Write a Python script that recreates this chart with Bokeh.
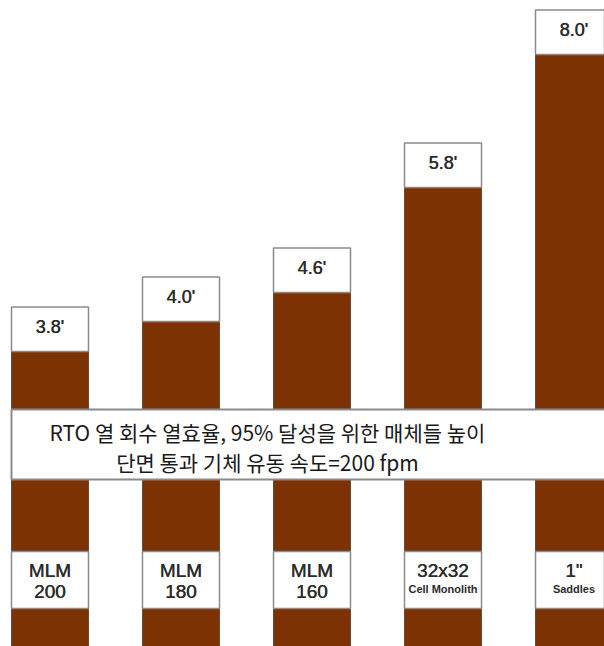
from bokeh.plotting import figure
from bokeh.models import ColumnDataSource, Range1d
from bokeh.core.properties import value
from bokeh.embed import file_html
from bokeh.resources import INLINE

# ---- data ----
categories = ["MLM 200", "MLM 180", "MLM 160", "32x32 Cell Monolith", '1" Saddles']
heights_ft = [3.8, 4.0, 4.6, 5.8, 8.0]
height_labels = ["3.8'", "4.0'", "4.6'", "5.8'", "8.0'"]
# drawn bar height (brown part) in picture units
bar_height = [295, 325, 354, 459, 592]
label_main = ["MLM", "MLM", "MLM", "32x32", '1"']
label_sub = ["200", "180", "160", "Cell Monolith", "Saddles"]
title_lines = ["RTO 열 회수 열효율, 95% 달성을 위한 매체들 높이",
               "단면 통과 기체 유동 속도=200 fpm"]

W, H = 604, 646
BROWN = "#7D3204"
EDGE = "#8a8a8a"
TXT = "#1a1a1a"
LBL = "#2b2b2b"

x0, step, bw = 49.5, 131.0, 77.0
xs = [x0 + step * i for i in range(len(categories))]
box_h = 44.5

src = ColumnDataSource(dict(
    x=xs,
    top=bar_height,
    box_top=[b + box_h for b in bar_height],
    box_mid=[b + box_h / 2 + 2 for b in bar_height],
    hlab=height_labels,
    main=label_main,
    sub=label_sub,
    big_sub=[s if s.isdigit() else "" for s in label_sub],
    small_sub=["" if s.isdigit() else s for s in label_sub],
))

p = figure(width=W, height=H, output_backend="svg", toolbar_location=None,
           x_range=Range1d(0, W), y_range=Range1d(0, H), min_border=0,
           background_fill_color="white", border_fill_color="white")
p.axis.visible = False
p.grid.visible = False
p.outline_line_color = None


def medium_text(**kw):
    # draw twice with a sub-pixel shift to imitate a medium font weight
    for dx in (-0.2, 0.2):
        p.text(x_offset=dx, **kw)


# brown bars
p.vbar(x="x", width=bw, bottom=-5, top="top", source=src,
       fill_color=BROWN, line_color="#6b4a3a", line_width=1)
# white value boxes on top
p.vbar(x="x", width=bw, bottom="top", top="box_top", source=src,
       fill_color="white", line_color=EDGE, line_width=1.5)
medium_text(x="x", y="box_mid", text="hlab", source=src,
            text_font=value("Liberation Sans"), text_font_size="18px",
            text_color=LBL, text_align="center", text_baseline="middle")

# middle band
p.quad(left=[11], right=[W + 20], bottom=[H - 479], top=[H - 409],
       fill_color="white", line_color=EDGE, line_width=2)
p.text(x=[267, 267], y=[H - 431, H - 461], text=title_lines,
       text_font=value("Noto Sans CJK KR"), text_font_size="21px",
       text_color=TXT, text_align="center", text_baseline="middle")

# bottom label boxes
p.vbar(x="x", width=bw, bottom=H - 608, top=H - 551, source=src,
       fill_color="white", line_color=EDGE, line_width=1.5)
medium_text(x="x", y=H - 570, text="main", source=src,
            text_font=value("Liberation Sans"), text_font_size="19px",
            text_color=LBL, text_align="center", text_baseline="middle")
medium_text(x="x", y=H - 591, text="big_sub", source=src,
            text_font=value("Liberation Sans"), text_font_size="19px",
            text_color=LBL, text_align="center", text_baseline="middle")
p.text(x="x", y=H - 588, text="small_sub", source=src,
       text_font=value("Liberation Sans"), text_font_size="11px",
       text_font_style="bold", text_color=LBL,
       text_align="center", text_baseline="middle")

open("out.html", "w").write(file_html(p, INLINE))
